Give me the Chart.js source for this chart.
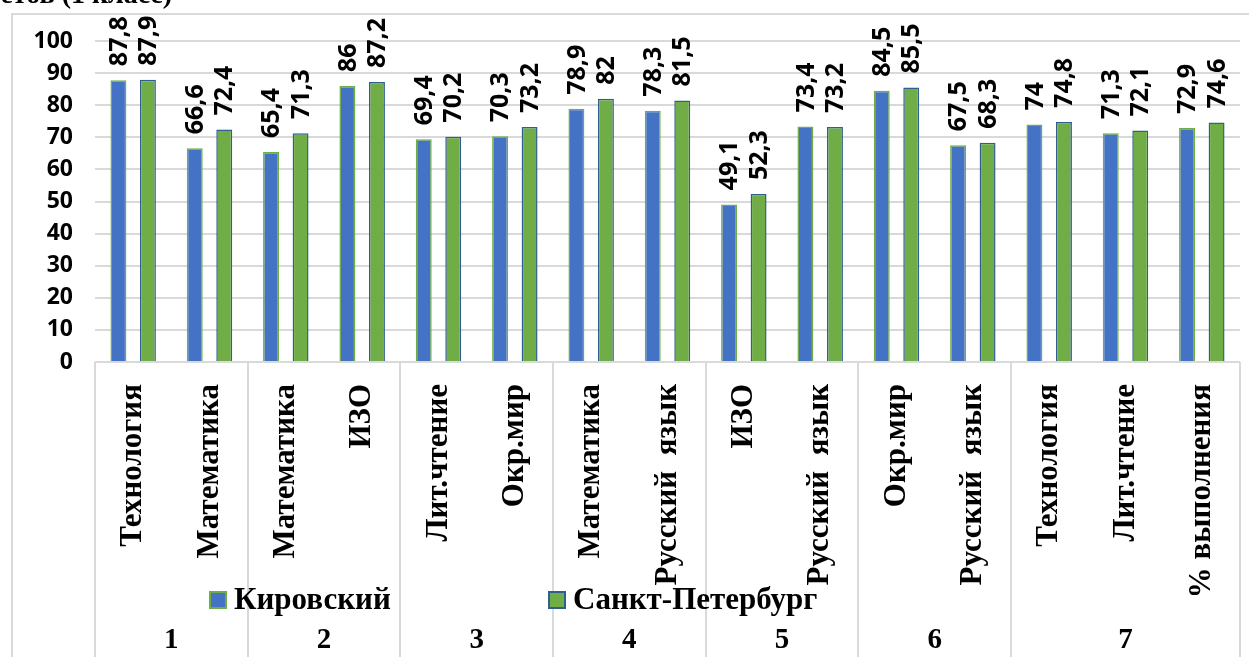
<!DOCTYPE html>
<html>
<head>
<meta charset="utf-8">
<script src="https://cdn.jsdelivr.net/npm/chart.js@4/dist/chart.umd.min.js"></script>
<style>
  body { margin: 0; background: #fff; }
</style>
</head>
<body>
<canvas id="myChart" width="1249" height="657"></canvas>
<script>
// Предметы (подписи оси X)
var subjects = ['Технология', 'Математика', 'Математика', 'ИЗО', 'Лит.чтение', 'Окр.мир',
    'Математика', 'Русский  язык', 'ИЗО', 'Русский  язык', 'Окр.мир', 'Русский  язык',
    'Технология', 'Лит.чтение', '% выполнения'];
// Номера групп и сколько предметов в каждой
var groups = ['1', '2', '3', '4', '5', '6', '7'];
var groupSizes = [2, 2, 2, 2, 2, 2, 3];
var seriesNames = ['Кировский', 'Санкт-Петербург'];
var kirovsky = [87.8, 66.6, 65.4, 86, 69.4, 70.3, 78.9, 78.3, 49.1, 73.4, 84.5, 67.5, 74, 71.3, 72.9];
var spb = [87.9, 72.4, 71.3, 87.2, 70.2, 73.2, 82, 81.5, 52.3, 73.2, 85.5, 68.3, 74.8, 72.1, 74.6];
var yMin = 0, yMax = 100, yStep = 10;

var GRID = '#d9d9d9';
var SERIF = '"Liberation Serif", "DejaVu Serif", serif';
var SANS = '"Open Sans", "Liberation Sans", sans-serif';

// подписи значений над столбцами (повёрнутые)
var valueLabels = {
    id: 'valueLabels',
    afterDatasetsDraw: function (chart) {
        var ctx = chart.ctx;
        ctx.save();
        ctx.font = 'bold 25px ' + SANS;
        ctx.fillStyle = '#000';
        ctx.textAlign = 'left';
        ctx.textBaseline = 'middle';
        chart.data.datasets.forEach(function (ds, i) {
            chart.getDatasetMeta(i).data.forEach(function (bar, j) {
                ctx.save();
                ctx.translate(bar.x + 1, bar.y - 14);
                ctx.rotate(-Math.PI / 2);
                ctx.fillText(String(ds.data[j]).replace('.', ','), 0, 0);
                ctx.restore();
            });
        });
        ctx.restore();
    }
};

// рамка, разделители групп, номера групп, легенда
var decor = {
    id: 'decor',
    beforeDraw: function (chart) {
        var ctx = chart.ctx;
        ctx.save();
        ctx.fillStyle = '#fff';
        ctx.fillRect(0, 0, chart.width, chart.height);
        ctx.strokeStyle = GRID;
        ctx.lineWidth = 2;
        ctx.strokeRect(12, 14, 1400, 800);
        // обрезанный заголовок сверху
        ctx.fillStyle = '#000';
        ctx.font = 'bold 28px ' + SERIF;
        ctx.textAlign = 'right';
        ctx.textBaseline = 'alphabetic';
        ctx.fillText('предметов (1 класс)', 172, 3);
        ctx.restore();
    },
    afterDraw: function (chart) {
        var ctx = chart.ctx;
        var x = chart.scales.x;
        var area = chart.chartArea;
        var half = (x.getPixelForValue(1) - x.getPixelForValue(0)) / 2;
        ctx.save();
        ctx.strokeStyle = GRID;
        ctx.lineWidth = 2;
        var idx = 0;
        var edges = [x.getPixelForValue(0) - half];
        groupSizes.forEach(function (n) {
            idx += n;
            edges.push(x.getPixelForValue(idx - 1) + half);
        });
        edges.forEach(function (ex) {
            ctx.beginPath();
            ctx.moveTo(Math.round(ex), area.bottom);
            ctx.lineTo(Math.round(ex), chart.height);
            ctx.stroke();
        });
        ctx.fillStyle = '#000';
        ctx.font = 'bold 29px ' + SERIF;
        ctx.textAlign = 'center';
        ctx.textBaseline = 'middle';
        groups.forEach(function (g, k) {
            ctx.fillText(g, (edges[k] + edges[k + 1]) / 2, 641);
        });
        // легенда
        var legendX = [210, 549];
        ctx.font = 'bold 31px ' + SERIF;
        ctx.textAlign = 'left';
        chart.data.datasets.forEach(function (ds, i) {
            var lx = legendX[i];
            ctx.fillStyle = ds.backgroundColor;
            ctx.fillRect(lx, 592, 16, 16);
            ctx.strokeStyle = ds.borderColor;
            ctx.lineWidth = 2;
            ctx.strokeRect(lx, 592, 16, 16);
            ctx.fillStyle = '#000';
            ctx.fillText(ds.label, lx + 24, 601);
        });
        ctx.restore();
    }
};

var ctx = document.getElementById('myChart').getContext('2d');
var myChart = new Chart(ctx, {
    type: 'bar',
    data: {
        labels: subjects,
        datasets: [{
            label: seriesNames[0],
            data: kirovsky,
            backgroundColor: '#4472C4',
            borderColor: '#70AD47',
            borderWidth: 1.5
        }, {
            label: seriesNames[1],
            data: spb,
            backgroundColor: '#70AD47',
            borderColor: '#2E5F8F',
            borderWidth: 1.5
        }]
    },
    options: {
        responsive: false,
        devicePixelRatio: 1,
        animation: false,
        layout: { padding: { top: 41, right: 9, left: 0, bottom: 0 } },
        datasets: { bar: { categoryPercentage: 0.773, barPercentage: 0.54 } },
        plugins: { legend: { display: false }, tooltip: { enabled: false } },
        scales: {
            x: {
                grid: { display: false, drawTicks: false },
                border: { display: false },
                ticks: {
                    autoSkip: false,
                    minRotation: 90,
                    maxRotation: 90,
                    padding: 22,
                    color: '#000',
                    font: { family: SERIF, size: 31, weight: 'bold' }
                },
                afterFit: function (s) {
                    s.height = 295;
                    s.paddingLeft = 0;
                    s.paddingRight = 0;
                }
            },
            y: {
                min: yMin,
                max: yMax,
                grid: { color: GRID, lineWidth: 2, drawTicks: false },
                border: { display: false },
                ticks: {
                    stepSize: yStep,
                    padding: 22,
                    color: '#000',
                    font: { family: SANS, size: 23, weight: 'bold' }
                },
                afterFit: function (s) { s.width = 95; }
            }
        }
    },
    plugins: [decor, valueLabels]
});
</script>
</body>
</html>
